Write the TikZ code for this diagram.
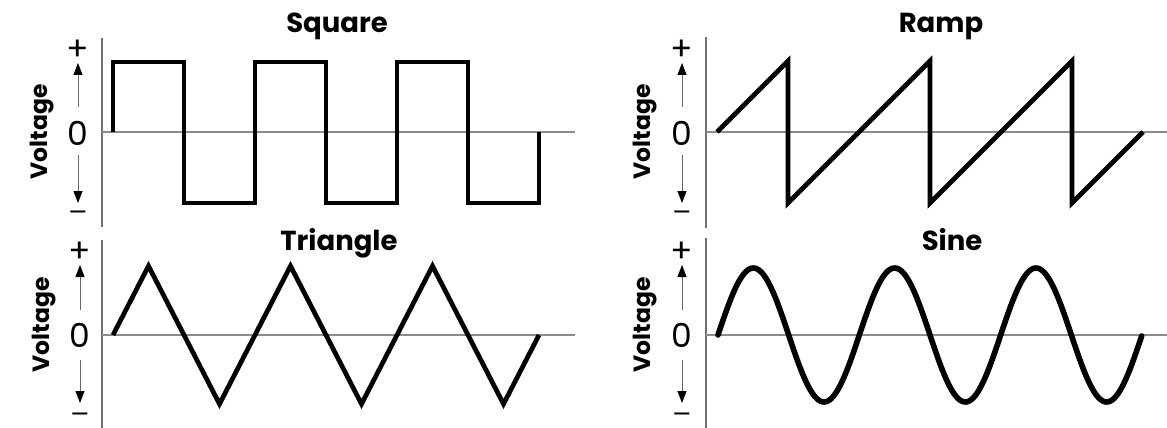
\documentclass[tikz,border=0pt]{standalone}
\usepackage{fontspec}
\setmainfont{Poppins}
\newfontfamily\dejavuminus{DejaVu Sans}
\usetikzlibrary{arrows.meta}
\begin{document}
\begin{tikzpicture}[x=1pt,y=-1pt,
  axis/.style={draw=black!55, line width=1.3pt},
  zero/.style={draw=black!45, line width=1.4pt},
  wave/.style={draw=black, line width=4.7pt, line join=miter},
  sinewave/.style={draw=black, line width=5.6pt, line cap=round},
  varrow/.style={draw=black!60, line width=0.9pt, -{Triangle[length=12pt,width=9pt,color=black]}},
  title/.style={font=\fontsize{27.5}{32}\selectfont\bfseries, inner sep=0pt, anchor=base},
  vlabel/.style={font=\fontsize{23.5}{28}\selectfont\bfseries, rotate=90, inner sep=0pt},
  tick/.style={font=\fontsize{33}{38}\selectfont, inner sep=0pt},
  minus/.style={font=\dejavuminus\fontsize{24}{28}\selectfont, inner sep=0pt}]
\useasboundingbox (0,0) rectangle (1167,428);

% ---------- Square (top left)
\draw[axis] (102,38) -- (102,227);
\draw[zero] (102,132) -- (575,132);
\node[title] (t1) at (337,33) {Square};
\node[vlabel] (v1) at (42,132) {Voltage};
\node[tick] (p1) at (78,50) {+};
\node[tick] (z1) at (78,133) {0};
\node[minus] (m1) at (78,215) {−};
\coordinate (a1s) at (78,107); \coordinate (a1e) at (78,63);
\coordinate (b1s) at (78,155); \coordinate (b1e) at (78,203);
\draw[varrow] (a1s) -- (a1e);
\draw[varrow] (b1s) -- (b1e);
\draw[wave] (113,132) -- (113,62) -- (184,62) -- (184,203) -- (255,203) -- (255,62)
  -- (326,62) -- (326,203) -- (397,203) -- (397,62) -- (468,62) -- (468,203)
  -- (539,203) -- (539,132);

% ---------- Ramp (top right)
\draw[axis] (706,37) -- (706,228);
\draw[zero] (706,132) -- (1167,132);
\node[title] (t2) at (941,33) {Ramp};
\node[vlabel] (v2) at (645,132) {Voltage};
\node[tick] (p2) at (682,50) {+};
\node[tick] (z2) at (682,133) {0};
\node[minus] (m2) at (682,215) {−};
\coordinate (a2s) at (682,107); \coordinate (a2e) at (682,63);
\coordinate (b2s) at (682,155); \coordinate (b2e) at (682,203);
\draw[varrow] (a2s) -- (a2e);
\draw[varrow] (b2s) -- (b2e);
\draw[wave] (717,132) -- (788,61) -- (788,203) -- (930,61) -- (930,203)
  -- (1072,61) -- (1072,203) -- (1143,132);

% ---------- Triangle (bottom left)
\draw[axis] (102,240) -- (102,428);
\draw[zero] (102,335) -- (575,335);
\node[title] (t3) at (339,250) {Triangle};
\node[vlabel] (v3) at (44,325) {Voltage};
\node[tick] (p3) at (80,252) {+};
\node[tick] (z3) at (80,335) {0};
\node[minus] (m3) at (80,417) {−};
\coordinate (a3s) at (80,310); \coordinate (a3e) at (80,265);
\coordinate (b3s) at (80,360); \coordinate (b3e) at (80,403);
\draw[varrow] (a3s) -- (a3e);
\draw[varrow] (b3s) -- (b3e);
\draw[wave] (113,335) -- (148.5,266) -- (219.5,404) -- (290.5,266) -- (361.5,404)
  -- (432.5,266) -- (503.5,404) -- (539,335);

% ---------- Sine (bottom right)
\draw[axis] (706,238) -- (706,428);
\draw[zero] (706,335) -- (1167,335);
\node[title] (t4) at (952,250) {Sine};
\node[vlabel] (v4) at (645,325) {Voltage};
\node[tick] (p4) at (682,252) {+};
\node[tick] (z4) at (682,335) {0};
\node[minus] (m4) at (682,417) {−};
\coordinate (a4s) at (682,310); \coordinate (a4e) at (682,265);
\coordinate (b4s) at (682,360); \coordinate (b4e) at (682,403);
\draw[varrow] (a4s) -- (a4e);
\draw[varrow] (b4s) -- (b4e);
\draw[sinewave] plot[domain=0:3, samples=240, smooth] ({718+141.33*\x}, {335-67*sin(360*\x)});

\end{tikzpicture}
\end{document}
